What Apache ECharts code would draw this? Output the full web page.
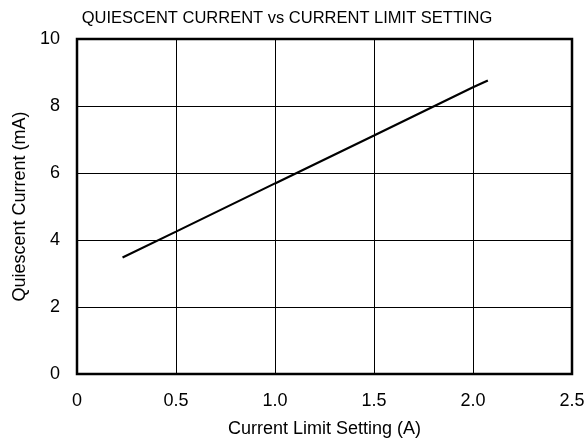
<!DOCTYPE html>
<html>
<head>
<meta charset="utf-8">
<script src="https://cdn.jsdelivr.net/npm/echarts@6/dist/echarts.min.js"></script>
<style>html,body{margin:0;padding:0;background:#fff}#c{width:588px;height:443px}</style>
</head>
<body>
<div id="c"></div>
<script>
var titleText = 'QUIESCENT CURRENT vs CURRENT LIMIT SETTING';
var xName = 'Current Limit Setting (A)';
var yName = 'Quiescent Current (mA)';
var currentLimit = [0.23, 0.5, 1.0, 1.5, 2.0, 2.075];
var quiescent = [3.48, 4.25, 5.69, 7.12, 8.56, 8.76];
var xTicks = ['0', '0.5', '1.0', '1.5', '2.0', '2.5'];

var font = 'Liberation Sans, Arial, sans-serif';
var chart = echarts.init(document.getElementById('c'), null, {renderer: 'canvas'});
var data = currentLimit.map(function (x, i) { return [x, quiescent[i]]; });
chart.setOption({
  animation: false,
  backgroundColor: '#fff',
  title: {
    text: titleText, left: 282, top: 5, textAlign: 'center',
    textStyle: {fontFamily: font, fontSize: 16.5, fontWeight: 'normal', color: '#000'}
  },
  grid: {left: 77, right: 16, top: 39, bottom: 69, show: true, borderColor: '#000', borderWidth: 2.5, backgroundColor: 'transparent'},
  xAxis: {
    type: 'value', min: 0, max: 2.5, interval: 0.5,
    name: xName, nameLocation: 'middle', nameGap: 46,
    nameTextStyle: {fontFamily: font, fontSize: 18, color: '#000'},
    axisLine: {show: false}, axisTick: {show: false},
    axisLabel: {margin: 18, fontFamily: font, fontSize: 18, color: '#000',
      formatter: function (v) { return xTicks[Math.round(v / 0.5)]; }},
    splitLine: {show: true, lineStyle: {color: '#000', width: 1}}
  },
  yAxis: {
    type: 'value', min: 0, max: 10, interval: 2,
    name: yName, nameLocation: 'middle', nameGap: 47,
    nameTextStyle: {fontFamily: font, fontSize: 18, color: '#000'},
    axisLine: {show: false}, axisTick: {show: false},
    axisLabel: {margin: 17, fontFamily: font, fontSize: 18, color: '#000'},
    splitLine: {show: true, lineStyle: {color: '#000', width: 1}}
  },
  series: [{
    type: 'line', data: data, showSymbol: false, smooth: false,
    lineStyle: {color: '#000', width: 2.2}
  }]
});
</script>
</body>
</html>
